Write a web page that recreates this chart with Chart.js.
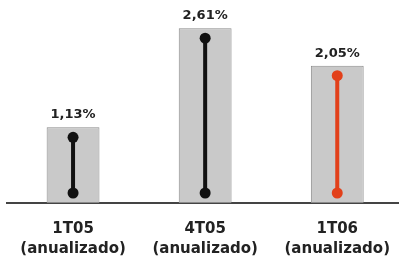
<!DOCTYPE html>
<html>
<head>
<meta charset="utf-8">
<script src="https://cdn.jsdelivr.net/npm/chart.js@4"></script>
<style>
  html, body { margin: 0; padding: 0; background: #fff; overflow: hidden; }
  #wrap { width: 406px; height: 261px; }
</style>
</head>
<body>
<div id="wrap"><canvas id="chart"></canvas></div>
<script>
const categories = [["1T05", "(anualizado)"], ["4T05", "(anualizado)"], ["1T06", "(anualizado)"]];
const rates = [1.13, 2.61, 2.05];
const rateLabels = ["1,13%", "2,61%", "2,05%"];
const stemColors = ["#111111", "#111111", "#e2401a"];

// draws the dumbbell inside each bar and the % label above it
const stems = {
  id: "stems",
  afterDatasetsDraw(chart) {
    const ctx = chart.ctx;
    const meta = chart.getDatasetMeta(0);
    meta.data.forEach((bar, i) => {
      const top = bar.y + 10;
      const bottom = bar.base - 10;
      ctx.save();
      ctx.strokeStyle = stemColors[i];
      ctx.fillStyle = stemColors[i];
      ctx.lineWidth = 4;
      ctx.beginPath();
      ctx.moveTo(bar.x, top);
      ctx.lineTo(bar.x, bottom);
      ctx.stroke();
      [top, bottom].forEach((y) => {
        ctx.beginPath();
        ctx.arc(bar.x, y, 5.5, 0, Math.PI * 2);
        ctx.fill();
      });
      ctx.fillStyle = "#222";
      ctx.font = "bold 13px 'DejaVu Sans'";
      ctx.textAlign = "center";
      ctx.textBaseline = "alphabetic";
      ctx.fillText(rateLabels[i], bar.x, bar.y - 9);
      ctx.restore();
    });
  },
};

new Chart(document.getElementById("chart"), {
  type: "bar",
  data: {
    labels: categories,
    datasets: [
      {
        data: rates,
        backgroundColor: "#c9c9c9",
        borderColor: "#8a8a8a",
        borderWidth: 1,
        borderSkipped: false,
        categoryPercentage: 1,
        barPercentage: 0.4,
      },
    ],
  },
  options: {
    responsive: true,
    maintainAspectRatio: false,
    animation: false,
    layout: { padding: { left: 7, right: 0, top: 0, bottom: 0 } },
    plugins: { legend: { display: false }, tooltip: { enabled: false } },
    scales: {
      x: {
        afterFit: (axis) => { axis.height = 58; },
        grid: { display: false, drawTicks: false },
        border: { display: true, color: "#444", width: 2 },
        ticks: {
          padding: 16,
          color: "#222",
          maxRotation: 0,
          font: { family: "'DejaVu Sans'", size: 15, weight: "bold", lineHeight: 1.33 },
        },
      },
      y: {
        display: false,
        min: 0,
        max: 3.03,
      },
    },
  },
  plugins: [stems],
});
</script>
</body>
</html>
